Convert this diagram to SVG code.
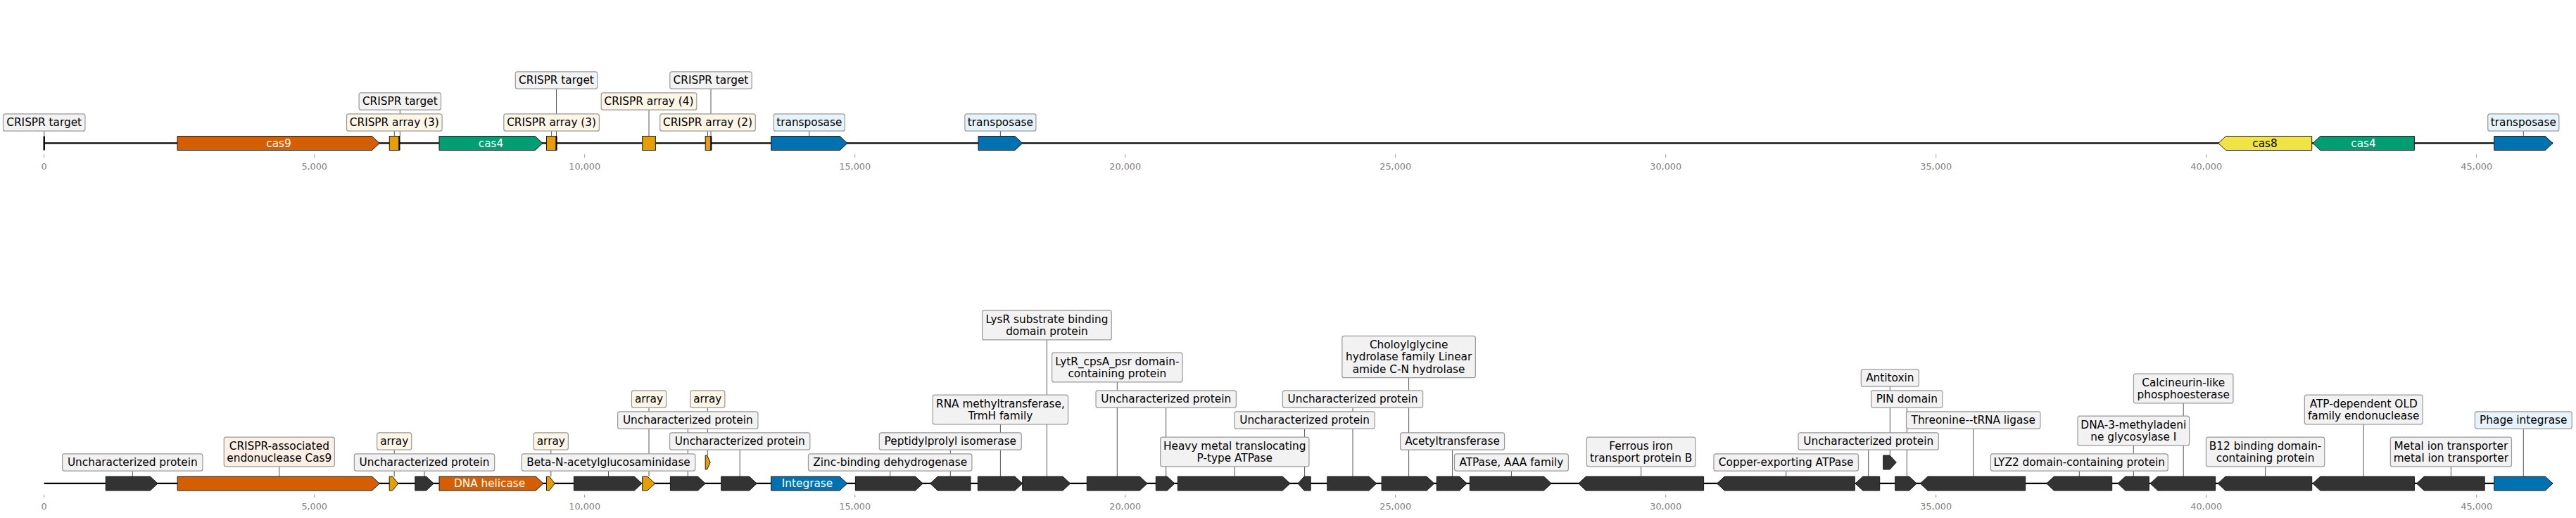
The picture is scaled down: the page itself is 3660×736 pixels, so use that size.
<svg xmlns="http://www.w3.org/2000/svg" width="3660" height="736" viewBox="0 0 3660 736">
<style>
.bg{fill:#fff}
.trk{stroke:#000;stroke-width:2.3;fill:none}
.g{stroke:#1a1a1a;stroke-width:1;stroke-linejoin:miter}
.dk{fill:#333333}
.or{fill:#D55E00}
.ar{fill:#E69F00}
.gr{fill:#009E73}
.ye{fill:#F0E442}
.bl{fill:#0072B2}
.tg{fill:#000}
.box{stroke:#999;stroke-width:1.2}
.bg0{fill:#f2f2f2}
.bcr{fill:#fdf5e6}
.bpe{fill:#fbefe6}
.bbl{fill:#e6f3fa}
.t{font-family:"DejaVu Sans","Liberation Sans",sans-serif;font-size:15.3px;text-anchor:middle;fill:#000}
.tw{fill:#fff}
.tick{stroke:#999;stroke-width:1}
.tl{font-family:"DejaVu Sans","Liberation Sans",sans-serif;font-size:12.8px;text-anchor:middle;fill:#808080}
.c{stroke:#444;stroke-width:0.9;fill:none}
</style>
<rect class="bg" x="0" y="0" width="3660" height="736"/>

<g id="axes">
  <line class="trk" x1="62.7" y1="203.3" x2="3627" y2="203.3"/>
  <line class="trk" x1="62.7" y1="686.8" x2="3627" y2="686.8"/>
  <g id="ticks-top">
    <line class="tick" x1="62.7" y1="219.3" x2="62.7" y2="224"/>
    <line class="tick" x1="446.7" y1="219.3" x2="446.7" y2="224"/>
    <line class="tick" x1="830.7" y1="219.3" x2="830.7" y2="224"/>
    <line class="tick" x1="1214.7" y1="219.3" x2="1214.7" y2="224"/>
    <line class="tick" x1="1598.7" y1="219.3" x2="1598.7" y2="224"/>
    <line class="tick" x1="1982.7" y1="219.3" x2="1982.7" y2="224"/>
    <line class="tick" x1="2366.7" y1="219.3" x2="2366.7" y2="224"/>
    <line class="tick" x1="2750.7" y1="219.3" x2="2750.7" y2="224"/>
    <line class="tick" x1="3134.7" y1="219.3" x2="3134.7" y2="224"/>
    <line class="tick" x1="3518.7" y1="219.3" x2="3518.7" y2="224"/>
    <text class="tl" x="62.7" y="240.7">0</text>
    <text class="tl" x="446.7" y="240.7">5,000</text>
    <text class="tl" x="830.7" y="240.7">10,000</text>
    <text class="tl" x="1214.7" y="240.7">15,000</text>
    <text class="tl" x="1598.7" y="240.7">20,000</text>
    <text class="tl" x="1982.7" y="240.7">25,000</text>
    <text class="tl" x="2366.7" y="240.7">30,000</text>
    <text class="tl" x="2750.7" y="240.7">35,000</text>
    <text class="tl" x="3134.7" y="240.7">40,000</text>
    <text class="tl" x="3518.7" y="240.7">45,000</text>
  </g>
  <g id="ticks-bottom">
    <line class="tick" x1="62.7" y1="702.7" x2="62.7" y2="707"/>
    <line class="tick" x1="446.7" y1="702.7" x2="446.7" y2="707"/>
    <line class="tick" x1="830.7" y1="702.7" x2="830.7" y2="707"/>
    <line class="tick" x1="1214.7" y1="702.7" x2="1214.7" y2="707"/>
    <line class="tick" x1="1598.7" y1="702.7" x2="1598.7" y2="707"/>
    <line class="tick" x1="1982.7" y1="702.7" x2="1982.7" y2="707"/>
    <line class="tick" x1="2366.7" y1="702.7" x2="2366.7" y2="707"/>
    <line class="tick" x1="2750.7" y1="702.7" x2="2750.7" y2="707"/>
    <line class="tick" x1="3134.7" y1="702.7" x2="3134.7" y2="707"/>
    <line class="tick" x1="3518.7" y1="702.7" x2="3518.7" y2="707"/>
    <text class="tl" x="62.7" y="724.1">0</text>
    <text class="tl" x="446.7" y="724.1">5,000</text>
    <text class="tl" x="830.7" y="724.1">10,000</text>
    <text class="tl" x="1214.7" y="724.1">15,000</text>
    <text class="tl" x="1598.7" y="724.1">20,000</text>
    <text class="tl" x="1982.7" y="724.1">25,000</text>
    <text class="tl" x="2366.7" y="724.1">30,000</text>
    <text class="tl" x="2750.7" y="724.1">35,000</text>
    <text class="tl" x="3134.7" y="724.1">40,000</text>
    <text class="tl" x="3518.7" y="724.1">45,000</text>
  </g>
</g>

<g id="connectors">
  <line class="c" x1="62.7" y1="186.2" x2="62.7" y2="193.5"/>
  <line class="c" x1="560.3" y1="186.2" x2="560.3" y2="193.5"/>
  <line class="c" x1="568.3" y1="156.2" x2="568.3" y2="193.5"/>
  <line class="c" x1="783.6" y1="186.2" x2="783.6" y2="193.5"/>
  <line class="c" x1="790.5" y1="126.2" x2="790.5" y2="193.5"/>
  <line class="c" x1="922" y1="156.2" x2="922" y2="193.5"/>
  <line class="c" x1="1005.5" y1="186.2" x2="1005.5" y2="193.5"/>
  <line class="c" x1="1010" y1="126.2" x2="1010" y2="193.5"/>
  <line class="c" x1="1149.8" y1="186.2" x2="1149.8" y2="193.5"/>
  <line class="c" x1="1421.4" y1="186.2" x2="1421.4" y2="193.5"/>
  <line class="c" x1="3585.3" y1="186.2" x2="3585.3" y2="193.5"/>

  <line class="c" x1="188.3" y1="669.2" x2="188.3" y2="677"/>
  <line class="c" x1="396.8" y1="662.9" x2="396.8" y2="677"/>
  <line class="c" x1="560.2" y1="639.2" x2="560.2" y2="677"/>
  <line class="c" x1="603" y1="669.2" x2="603" y2="677"/>
  <line class="c" x1="782.8" y1="639.2" x2="782.8" y2="677"/>
  <line class="c" x1="864.5" y1="669.2" x2="864.5" y2="677"/>
  <line class="c" x1="922" y1="579.2" x2="922" y2="677"/>
  <line class="c" x1="1005.3" y1="579.2" x2="1005.3" y2="647"/>
  <line class="c" x1="977.3" y1="609.2" x2="977.3" y2="677"/>
  <line class="c" x1="1051.2" y1="639.2" x2="1051.2" y2="677"/>
  <line class="c" x1="1264.7" y1="669.2" x2="1264.7" y2="677"/>
  <line class="c" x1="1350.3" y1="639.2" x2="1350.3" y2="677"/>
  <line class="c" x1="1421.4" y1="602.9" x2="1421.4" y2="677"/>
  <line class="c" x1="1487.4" y1="482.9" x2="1487.4" y2="677"/>
  <line class="c" x1="1587.3" y1="542.9" x2="1587.3" y2="677"/>
  <line class="c" x1="1656.7" y1="579.2" x2="1656.7" y2="677"/>
  <line class="c" x1="1754.3" y1="662.9" x2="1754.3" y2="677"/>
  <line class="c" x1="1853.6" y1="609.2" x2="1853.6" y2="677"/>
  <line class="c" x1="1922" y1="579.2" x2="1922" y2="677"/>
  <line class="c" x1="2001.6" y1="536.7" x2="2001.6" y2="677"/>
  <line class="c" x1="2063.6" y1="639.2" x2="2063.6" y2="677"/>
  <line class="c" x1="2147.4" y1="669.2" x2="2147.4" y2="677"/>
  <line class="c" x1="2331.6" y1="662.9" x2="2331.6" y2="677"/>
  <line class="c" x1="2537.7" y1="669.2" x2="2537.7" y2="677"/>
  <line class="c" x1="2654.7" y1="639.2" x2="2654.7" y2="677"/>
  <line class="c" x1="2685.3" y1="549.2" x2="2685.3" y2="647"/>
  <line class="c" x1="2709.3" y1="579.2" x2="2709.3" y2="677"/>
  <line class="c" x1="2803.7" y1="609.2" x2="2803.7" y2="677"/>
  <line class="c" x1="2954.3" y1="669.2" x2="2954.3" y2="677"/>
  <line class="c" x1="3031.3" y1="632.9" x2="3031.3" y2="677"/>
  <line class="c" x1="3102.2" y1="572.9" x2="3102.2" y2="677"/>
  <line class="c" x1="3218.6" y1="662.9" x2="3218.6" y2="677"/>
  <line class="c" x1="3358.2" y1="602.9" x2="3358.2" y2="677"/>
  <line class="c" x1="3482.4" y1="662.9" x2="3482.4" y2="677"/>
  <line class="c" x1="3585.3" y1="609.2" x2="3585.3" y2="677"/>
</g>

<g id="top-track">
  <g id="t-target-0"><rect class="tg" x="61.5" y="193.5" width="2.4" height="20"/>
    <rect class="box bg0" x="4.5" y="161.85" width="116.4" height="24.3" rx="3"/><text class="t" x="62.7" y="179.3">CRISPR target</text></g>
  <g id="t-cas9"><polygon class="g or" points="252,193.5 528.5,193.5 539.2,203.5 528.5,213.5 252,213.5"/><text class="t tw" x="396" y="208.8">cas9</text></g>
  <g id="t-array-1"><rect class="g ar" x="553.3" y="193.5" width="14" height="20"/>
    <rect class="box bcr" x="492.5" y="161.85" width="135.6" height="24.3" rx="3"/><text class="t" x="560.3" y="179.3">CRISPR array (3)</text></g>
  <g id="t-target-1"><rect class="tg" x="566.3" y="193.5" width="2.2" height="20"/>
    <rect class="box bg0" x="510.1" y="131.85" width="116.4" height="24.3" rx="3"/><text class="t" x="568.3" y="149.3">CRISPR target</text></g>
  <g id="t-cas4-1"><polygon class="g gr" points="624,193.5 760.3,193.5 771,203.5 760.3,213.5 624,213.5"/><text class="t tw" x="697.5" y="208.8">cas4</text></g>
  <g id="t-array-2"><rect class="g ar" x="776.5" y="193.5" width="14" height="20"/>
    <rect class="box bcr" x="715.8" y="161.85" width="135.6" height="24.3" rx="3"/><text class="t" x="783.6" y="179.3">CRISPR array (3)</text></g>
  <g id="t-target-2"><rect class="tg" x="789.4" y="193.5" width="2.2" height="20"/>
    <rect class="box bg0" x="732.3" y="101.85" width="116.4" height="24.3" rx="3"/><text class="t" x="790.5" y="119.3">CRISPR target</text></g>
  <g id="t-array-3"><rect class="g ar" x="912.7" y="193.5" width="18.7" height="20"/>
    <rect class="box bcr" x="854.2" y="131.85" width="135.6" height="24.3" rx="3"/><text class="t" x="922" y="149.3">CRISPR array (4)</text></g>
  <g id="t-array-4"><rect class="g ar" x="1002.2" y="193.5" width="8.2" height="20"/>
    <rect class="box bcr" x="937.7" y="161.85" width="135.6" height="24.3" rx="3"/><text class="t" x="1005.5" y="179.3">CRISPR array (2)</text></g>
  <g id="t-target-3"><rect class="tg" x="1009.2" y="193.5" width="2.2" height="20"/>
    <rect class="box bg0" x="951.8" y="101.85" width="116.4" height="24.3" rx="3"/><text class="t" x="1010" y="119.3">CRISPR target</text></g>
  <g id="t-transposase-1"><polygon class="g bl" points="1095.6,193.5 1193.3,193.5 1204,203.5 1193.3,213.5 1095.6,213.5"/>
    <rect class="box bbl" x="1099.25" y="161.85" width="101.1" height="24.3" rx="3"/><text class="t" x="1149.8" y="179.3">transposase</text></g>
  <g id="t-transposase-2"><polygon class="g bl" points="1390,193.5 1442,193.5 1452.7,203.5 1442,213.5 1390,213.5"/>
    <rect class="box bbl" x="1370.85" y="161.85" width="101.1" height="24.3" rx="3"/><text class="t" x="1421.4" y="179.3">transposase</text></g>
  <g id="t-cas8"><polygon class="g ye" points="3151.8,203.5 3162.5,193.5 3284.7,193.5 3284.7,213.5 3162.5,213.5"/><text class="t" x="3218" y="208.8">cas8</text></g>
  <g id="t-cas4-2"><polygon class="g gr" points="3286,203.5 3296.7,193.5 3430.4,193.5 3430.4,213.5 3296.7,213.5"/><text class="t tw" x="3358" y="208.8">cas4</text></g>
  <g id="t-transposase-3"><polygon class="g bl" points="3543.7,193.5 3616.3,193.5 3627,203.5 3616.3,213.5 3543.7,213.5"/>
    <rect class="box bbl" x="3534.75" y="161.85" width="101.1" height="24.3" rx="3"/><text class="t" x="3585.3" y="179.3">transposase</text></g>
</g>

<g id="bottom-track">
  <g id="b1"><polygon class="g dk" points="150.2,677 213.4,677 224.1,687 213.4,697 150.2,697"/>
    <rect class="box bg0" x="88.65" y="644.85" width="199.3" height="24.3" rx="3"/><text class="t" x="188.3" y="662.3">Uncharacterized protein</text></g>
  <g id="b2"><polygon class="g or" points="252.1,677 528.5,677 539.2,687 528.5,697 252.1,697"/>
    <rect class="box bpe" x="318.25" y="621.1" width="157.1" height="41.8" rx="3"/><text class="t" x="396.8" y="638.55">CRISPR-associated</text><text class="t" x="396.8" y="656.05">endonuclease Cas9</text></g>
  <g id="b3"><polygon class="g ar" points="553.2,677 557.6,677 565.7,687 557.6,697 553.2,697"/>
    <rect class="box bcr" x="535.65" y="614.85" width="49.1" height="24.3" rx="3"/><text class="t" x="560.2" y="632.3">array</text></g>
  <g id="b4"><polygon class="g dk" points="589.8,677 605.6,677 616.3,687 605.6,697 589.8,697"/>
    <rect class="box bg0" x="503.35" y="644.85" width="199.3" height="24.3" rx="3"/><text class="t" x="603" y="662.3">Uncharacterized protein</text></g>
  <g id="b5"><polygon class="g or" points="624,677 761.2,677 771.9,687 761.2,697 624,697"/><text class="t tw" x="695.6" y="692.3">DNA helicase</text></g>
  <g id="b6"><polygon class="g ar" points="776.5,677 780.6,677 788.2,687 780.6,697 776.5,697"/>
    <rect class="box bcr" x="758.25" y="614.85" width="49.1" height="24.3" rx="3"/><text class="t" x="782.8" y="632.3">array</text></g>
  <g id="b7"><polygon class="g dk" points="815.4,677 901.3,677 912,687 901.3,697 815.4,697"/>
    <rect class="box bg0" x="741.15" y="644.85" width="246.7" height="24.3" rx="3"/><text class="t" x="864.5" y="662.3">Beta-N-acetylglucosaminidase</text></g>
  <g id="b8"><polygon class="g ar" points="912.7,677 919.9,677 930.6,687 919.9,697 912.7,697"/>
    <rect class="box bcr" x="897.45" y="554.85" width="49.1" height="24.3" rx="3"/><text class="t" x="922" y="572.3">array</text></g>
  <g id="b9"><polygon class="g dk" points="952.4,677 991.5,677 1002.2,687 991.5,697 952.4,697"/>
    <rect class="box bg0" x="877.65" y="584.85" width="199.3" height="24.3" rx="3"/><text class="t" x="977.3" y="602.3">Uncharacterized protein</text></g>
  <g id="b10"><polygon class="g ar" points="1002.2,647 1004.6,647 1009.2,657 1004.6,667 1002.2,667"/>
    <rect class="box bcr" x="980.75" y="554.85" width="49.1" height="24.3" rx="3"/><text class="t" x="1005.3" y="572.3">array</text></g>
  <g id="b11"><polygon class="g dk" points="1024.7,677 1064.6,677 1075.3,687 1064.6,697 1024.7,697"/>
    <rect class="box bg0" x="951.55" y="614.85" width="199.3" height="24.3" rx="3"/><text class="t" x="1051.2" y="632.3">Uncharacterized protein</text></g>
  <g id="b12"><polygon class="g bl" points="1095.6,677 1193,677 1203.7,687 1193,697 1095.6,697"/><text class="t tw" x="1147" y="692.3">Integrase</text></g>
  <g id="b13"><polygon class="g dk" points="1215.4,677 1300.5,677 1311.2,687 1300.5,697 1215.4,697"/>
    <rect class="box bg0" x="1148.45" y="644.85" width="232.5" height="24.3" rx="3"/><text class="t" x="1264.7" y="662.3">Zinc-binding dehydrogenase</text></g>
  <g id="b14"><polygon class="g dk" points="1321.6,687 1332.3,677 1379,677 1379,697 1332.3,697"/>
    <rect class="box bg0" x="1249.3" y="614.85" width="202" height="24.3" rx="3"/><text class="t" x="1350.3" y="632.3">Peptidylprolyl isomerase</text></g>
  <g id="b15"><polygon class="g dk" points="1389.3,677 1442,677 1452.7,687 1442,697 1389.3,697"/>
    <rect class="box bg0" x="1325.25" y="561.1" width="192.3" height="41.8" rx="3"/><text class="t" x="1421.4" y="578.55">RNA methyltransferase,</text><text class="t" x="1421.4" y="596.05">TrmH family</text></g>
  <g id="b16"><polygon class="g dk" points="1452.7,677 1510,677 1520.7,687 1510,697 1452.7,697"/>
    <rect class="box bg0" x="1395.55" y="441.1" width="183.7" height="41.8" rx="3"/><text class="t" x="1487.4" y="458.55">LysR substrate binding</text><text class="t" x="1487.4" y="476.05">domain protein</text></g>
  <g id="b17"><polygon class="g dk" points="1544.3,677 1619.3,677 1630,687 1619.3,697 1544.3,697"/>
    <rect class="box bg0" x="1494.6" y="501.1" width="185.4" height="41.8" rx="3"/><text class="t" x="1587.3" y="518.55">LytR_cpsA_psr domain-</text><text class="t" x="1587.3" y="536.05">containing protein</text></g>
  <g id="b18"><polygon class="g dk" points="1642.3,677 1658.3,677 1669,687 1658.3,697 1642.3,697"/>
    <rect class="box bg0" x="1557.05" y="554.85" width="199.3" height="24.3" rx="3"/><text class="t" x="1656.7" y="572.3">Uncharacterized protein</text></g>
  <g id="b19"><polygon class="g dk" points="1673.3,677 1822.3,677 1833,687 1822.3,697 1673.3,697"/>
    <rect class="box bg0" x="1648.65" y="621.1" width="211.3" height="41.8" rx="3"/><text class="t" x="1754.3" y="638.55">Heavy metal translocating</text><text class="t" x="1754.3" y="656.05">P-type ATPase</text></g>
  <g id="b20"><polygon class="g dk" points="1844,687 1853,677 1862.2,677 1862.2,697 1853,697"/>
    <rect class="box bg0" x="1753.95" y="584.85" width="199.3" height="24.3" rx="3"/><text class="t" x="1853.6" y="602.3">Uncharacterized protein</text></g>
  <g id="b21"><polygon class="g dk" points="1885.8,677 1945.1,677 1955.8,687 1945.1,697 1885.8,697"/>
    <rect class="box bg0" x="1822.35" y="554.85" width="199.3" height="24.3" rx="3"/><text class="t" x="1922" y="572.3">Uncharacterized protein</text></g>
  <g id="b22"><polygon class="g dk" points="1963.1,677 2027.1,677 2037.8,687 2027.1,697 1963.1,697"/>
    <rect class="box bg0" x="1906.85" y="477.35" width="189.5" height="59.3" rx="3"/><text class="t" x="2001.6" y="494.8">Choloylglycine</text><text class="t" x="2001.6" y="512.3">hydrolase family Linear</text><text class="t" x="2001.6" y="529.8">amide C-N hydrolase</text></g>
  <g id="b23"><polygon class="g dk" points="2041.2,677 2073.6,677 2084.3,687 2073.6,697 2041.2,697"/>
    <rect class="box bg0" x="1989.6" y="614.85" width="148" height="24.3" rx="3"/><text class="t" x="2063.6" y="632.3">Acetyltransferase</text></g>
  <g id="b24"><polygon class="g dk" points="2088.3,677 2193.5,677 2204.2,687 2193.5,697 2088.3,697"/>
    <rect class="box bg0" x="2066.45" y="644.85" width="161.9" height="24.3" rx="3"/><text class="t" x="2147.4" y="662.3">ATPase, AAA family</text></g>
  <g id="b25"><polygon class="g dk" points="2242.7,687 2253.4,677 2420.6,677 2420.6,697 2253.4,697"/>
    <rect class="box bg0" x="2254.4" y="621.1" width="154.4" height="41.8" rx="3"/><text class="t" x="2331.6" y="638.55">Ferrous iron</text><text class="t" x="2331.6" y="656.05">transport protein B</text></g>
  <g id="b26"><polygon class="g dk" points="2439.5,687 2450.2,677 2635.3,677 2635.3,697 2450.2,697"/>
    <rect class="box bg0" x="2434.95" y="644.85" width="205.5" height="24.3" rx="3"/><text class="t" x="2537.7" y="662.3">Copper-exporting ATPase</text></g>
  <g id="b27"><polygon class="g dk" points="2636,687 2646.7,677 2670.7,677 2670.7,697 2646.7,697"/>
    <rect class="box bg0" x="2555.05" y="614.85" width="199.3" height="24.3" rx="3"/><text class="t" x="2654.7" y="632.3">Uncharacterized protein</text></g>
  <g id="b28"><polygon class="g dk" points="2675.7,647 2685,647 2694.3,657 2685,667 2675.7,667"/>
    <rect class="box bg0" x="2644.3" y="524.85" width="82" height="24.3" rx="3"/><text class="t" x="2685.3" y="542.3">Antitoxin</text></g>
  <g id="b29"><polygon class="g dk" points="2692.7,677 2712.6,677 2723.3,687 2712.6,697 2692.7,697"/>
    <rect class="box bg0" x="2658.65" y="554.85" width="101.3" height="24.3" rx="3"/><text class="t" x="2709.3" y="572.3">PIN domain</text></g>
  <g id="b30"><polygon class="g dk" points="2728.3,687 2739,677 2877.7,677 2877.7,697 2739,697"/>
    <rect class="box bg0" x="2708.5" y="584.85" width="190.4" height="24.3" rx="3"/><text class="t" x="2803.7" y="602.3">Threonine--tRNA ligase</text></g>
  <g id="b31"><polygon class="g dk" points="2907.7,687 2918.4,677 3000.7,677 3000.7,697 2918.4,697"/>
    <rect class="box bg0" x="2828.35" y="644.85" width="251.9" height="24.3" rx="3"/><text class="t" x="2954.3" y="662.3">LYZ2 domain-containing protein</text></g>
  <g id="b32"><polygon class="g dk" points="3009,687 3019.7,677 3053.3,677 3053.3,697 3019.7,697"/>
    <rect class="box bg0" x="2952" y="591.1" width="158.6" height="41.8" rx="3"/><text class="t" x="3031.3" y="608.55">DNA-3-methyladeni</text><text class="t" x="3031.3" y="626.05">ne glycosylase I</text></g>
  <g id="b33"><polygon class="g dk" points="3055.1,687 3065.8,677 3147.6,677 3147.6,697 3065.8,697"/>
    <rect class="box bg0" x="3031.45" y="531.1" width="141.5" height="41.8" rx="3"/><text class="t" x="3102.2" y="548.55">Calcineurin-like</text><text class="t" x="3102.2" y="566.05">phosphoesterase</text></g>
  <g id="b34"><polygon class="g dk" points="3151.2,687 3161.9,677 3284.7,677 3284.7,697 3161.9,697"/>
    <rect class="box bg0" x="3134.45" y="621.1" width="168.3" height="41.8" rx="3"/><text class="t" x="3218.6" y="638.55">B12 binding domain-</text><text class="t" x="3218.6" y="656.05">containing protein</text></g>
  <g id="b35"><polygon class="g dk" points="3286,687 3296.7,677 3430.4,677 3430.4,697 3296.7,697"/>
    <rect class="box bg0" x="3274.35" y="561.1" width="167.7" height="41.8" rx="3"/><text class="t" x="3358.2" y="578.55">ATP-dependent OLD</text><text class="t" x="3358.2" y="596.05">family endonuclease</text></g>
  <g id="b36"><polygon class="g dk" points="3433.5,687 3444.2,677 3530.2,677 3530.2,697 3444.2,697"/>
    <rect class="box bg0" x="3396.35" y="621.1" width="172.1" height="41.8" rx="3"/><text class="t" x="3482.4" y="638.55">Metal ion transporter</text><text class="t" x="3482.4" y="656.05">metal ion transporter</text></g>
  <g id="b37"><polygon class="g bl" points="3543.7,677 3616.3,677 3627,687 3616.3,697 3543.7,697"/>
    <rect class="box bbl" x="3516.4" y="584.85" width="137.8" height="24.3" rx="3"/><text class="t" x="3585.3" y="602.3">Phage integrase</text></g>
</g>
</svg>
